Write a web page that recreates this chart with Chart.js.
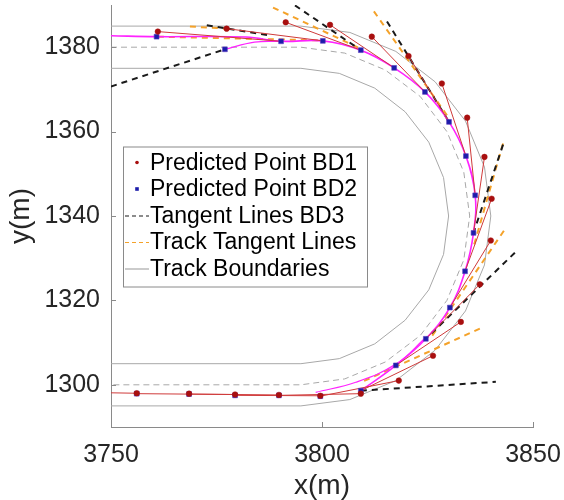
<!DOCTYPE html>
<html>
<head>
<meta charset="utf-8">
<style>
  html, body { margin: 0; padding: 0; background: #fff; }
  canvas { display: block; }
</style>
</head>
<body>
<canvas id="trackChart" width="564" height="500"></canvas>
<script src="https://cdn.jsdelivr.net/npm/chart.js@4.4.1/dist/chart.umd.min.js"></script>
<script>
// axis ticks
const xTicks = [3750, 3800, 3850];
const yTicks = [1300, 1320, 1340, 1360, 1380];

// track outline (outer edge, centre line, inner edge)
const outerX  = [3750, 3795, 3806.6, 3817.5, 3826.8, 3834.0, 3838.5, 3840, 3838.5, 3834.0, 3826.8, 3817.5, 3806.6, 3795, 3750];
const outerY  = [1385, 1385, 1383.5, 1379.0, 1371.8, 1362.5, 1351.6, 1340, 1328.4, 1317.5, 1308.2, 1301.0, 1296.5, 1295, 1295];
const centerX = [3750, 3795, 3805.4, 3815.0, 3823.3, 3829.6, 3833.6, 3835, 3833.6, 3829.6, 3823.3, 3815.0, 3805.4, 3795, 3750];
const centerY = [1380, 1380, 1378.6, 1374.6, 1368.3, 1360.0, 1350.4, 1340, 1329.6, 1320.0, 1311.7, 1305.4, 1301.4, 1300, 1300];
const innerX  = [3750, 3795, 3804.1, 3812.5, 3819.7, 3825.3, 3828.8, 3830, 3828.8, 3825.3, 3819.7, 3812.5, 3804.1, 3795, 3750];
const innerY  = [1375, 1375, 1373.8, 1370.3, 1364.7, 1357.5, 1349.1, 1340, 1330.9, 1322.5, 1315.3, 1309.7, 1306.2, 1305, 1305];

// predicted points
const bd1X = [3761.1, 3777.4, 3791.4, 3801.9, 3811.8, 3820.5, 3828.4, 3834.4, 3838.5, 3840.2, 3840.0,
              3837.4, 3832.9, 3826.3, 3818.2, 3809.2, 3799.6, 3789.8, 3779.4, 3768.5, 3756.1];
const bd1Y = [1383.7, 1384.4, 1385.9, 1385.3, 1382.5, 1377.9, 1371.4, 1363.3, 1354.0, 1344.1, 1334.2,
              1323.8, 1314.9, 1306.9, 1301.0, 1297.9, 1297.4, 1297.6, 1297.7, 1297.9, 1298.0];
const bd2X = [3760.8, 3777.0, 3790.3, 3800.2, 3809.2, 3817.1, 3824.4, 3830.1, 3834.1, 3836.3, 3835.9,
              3833.9, 3830.3, 3824.6, 3817.5, 3809.2, 3799.6, 3789.8, 3779.4, 3768.5, 3756.1];
const bd2Y = [1382.5, 1379.5, 1381.4, 1381.5, 1379.3, 1375.1, 1369.4, 1362.3, 1354.2, 1344.9, 1336.0,
              1326.9, 1318.3, 1310.9, 1304.6, 1298.6, 1297.3, 1297.5, 1297.5, 1297.8, 1297.9];

// driven path and its side branches
const pathX = [3750, 3760.8, 3782.0, 3790.3, 3800.2, 3809.2, 3817.1, 3824.4, 3830.1, 3834.1, 3836.3, 3835.9,
               3833.9, 3830.3, 3824.6, 3817.5, 3809.2];
const pathY = [1382.7, 1382.5, 1382.4, 1381.4, 1381.5, 1379.3, 1375.1, 1369.4, 1362.3, 1354.2, 1344.9, 1336.0,
               1326.9, 1318.3, 1310.9, 1304.6, 1298.6];
const branch1X = [3777.0, 3784.0, 3790.3];
const branch1Y = [1379.5, 1381.2, 1381.4];
const branch2X = [3798.5, 3808.0, 3817.5, 3824.6];
const branch2Y = [1298.2, 1300.6, 1304.9, 1311.2];

// left end of the last prediction link
const trailX = [3756.1, 3750];
const trailY = [1298.0, 1298.1];

// tangent lines BD3 (start -> end)
const bd3X0 = [3750.0, 3772.7, 3793.6, 3815.4, 3842.9, 3845.7, 3809.2];
const bd3Y0 = [1370.7, 1385.2, 1389.9, 1386.1, 1356.9, 1331.3, 1298.6];
const bd3X1 = [3777.0, 3787.7, 3809.2, 3830.1, 3835.9, 3824.6, 3841.2];
const bd3Y1 = [1379.5, 1382.8, 1379.3, 1362.3, 1336.0, 1310.9, 1300.7];

// track tangent lines (start -> end)
const ttX0 = [3761.1, 3768.7, 3788.4, 3812.3, 3842.9, 3843.1, 3837.4];
const ttY0 = [1382.5, 1384.9, 1389.4, 1388.5, 1357.2, 1336.5, 1313.3];
const ttX1 = [3800.0, 3777.5, 3809.0, 3830.3, 3835.8, 3826.1, 3809.5];
const ttY1 = [1381.6, 1384.4, 1379.7, 1362.9, 1332.3, 1311.6, 1300.7];

const legendLabels = ['Predicted Point BD1', 'Predicted Point BD2', 'Tangent Lines BD3', 'Track Tangent Lines', 'Track Boundaries'];

const FONT = "'Liberation Sans', Arial, Helvetica, sans-serif";
const AXIS = '#8a8a8a';
const GRAY = '#a8a8a8';
const RED_PT = '#a80f0f';
const RED_LINE = '#cf3a3a';
const BLUE = '#1c1caa';
const MAGENTA = '#ff22ff';
const ORANGE = '#f4a22a';
const BLACK = '#1a1a1a';

const pts = (xs, ys) => xs.map((x, i) => ({x, y: ys[i]}));

function line(xs, ys, style) {
	return Object.assign({
		data: pts(xs, ys),
		showLine: true,
		pointRadius: 0,
		pointHoverRadius: 0,
		borderWidth: 1,
		fill: false
	}, style);
}

const datasets = [];

datasets.push({
	data: pts(bd1X, bd1Y), pointStyle: 'circle', pointRadius: 2.8,
	backgroundColor: RED_PT, borderColor: RED_PT, borderWidth: 0.5, order: 1
});
datasets.push({
	data: pts(bd2X, bd2Y), pointStyle: 'rect', pointRadius: 3.4,
	backgroundColor: BLUE, borderColor: '#5a3ac0', borderWidth: 0.6, order: 2
});

// each predicted point is linked to the second point ahead on BD2
for (let i = 0; i + 2 < bd1X.length; i++) {
	datasets.push(line([bd1X[i], bd2X[i + 2]], [bd1Y[i], bd2Y[i + 2]], {borderColor: RED_LINE, order: 3}));
}
datasets.push(line(trailX, trailY, {borderColor: RED_LINE, order: 3}));

datasets.push(line(pathX, pathY, {borderColor: MAGENTA, borderWidth: 1.6, tension: 0.4, order: 4}));
datasets.push(line(branch1X, branch1Y, {borderColor: MAGENTA, borderWidth: 1.2, tension: 0.4, order: 4}));
datasets.push(line(branch2X, branch2Y, {borderColor: MAGENTA, borderWidth: 1.2, tension: 0.4, order: 4}));

bd3X0.forEach((x, i) => {
	datasets.push(line([x, bd3X1[i]], [bd3Y0[i], bd3Y1[i]], {borderColor: BLACK, borderWidth: 2, borderDash: [6, 5], order: 5}));
});
ttX0.forEach((x, i) => {
	datasets.push(line([x, ttX1[i]], [ttY0[i], ttY1[i]], {borderColor: ORANGE, borderWidth: 2, borderDash: [6, 5], order: 6}));
});

datasets.push(line(outerX, outerY, {borderColor: GRAY, order: 8}));
datasets.push(line(innerX, innerY, {borderColor: GRAY, order: 8}));
datasets.push(line(centerX, centerY, {borderColor: GRAY, borderDash: [6, 4], order: 8}));

// ticks pointing into the plot, as in the original figure
const innerTicks = {
	id: 'innerTicks',
	afterDraw(chart) {
		const {ctx, chartArea: a, scales: {x, y}} = chart;
		ctx.save();
		ctx.strokeStyle = AXIS;
		ctx.lineWidth = 1;
		ctx.beginPath();
		x.ticks.forEach(t => {
			const px = Math.round(x.getPixelForValue(t.value)) + 0.5;
			ctx.moveTo(px, a.bottom);
			ctx.lineTo(px, a.bottom - 5);
		});
		y.ticks.forEach(t => {
			const py = Math.round(y.getPixelForValue(t.value)) + 0.5;
			ctx.moveTo(a.left, py);
			ctx.lineTo(a.left + 5, py);
		});
		ctx.stroke();
		ctx.restore();
	}
};

// boxed legend sitting inside the plot
const boxLegend = {
	id: 'boxLegend',
	afterDatasetsDraw(chart) {
		const {ctx, chartArea: a} = chart;
		const left = a.left + 12, top = 146.5, w = 244, h = 140;
		const rowY = i => top + 16 + i * 26.5;
		ctx.save();
		ctx.fillStyle = '#fff';
		ctx.fillRect(left, top, w, h);
		ctx.strokeStyle = AXIS;
		ctx.lineWidth = 1;
		ctx.strokeRect(left + 0.5, top + 0.5, w, h);

		const sx0 = left + 2, sx1 = left + 26, sxm = (sx0 + sx1) / 2;
		legendLabels.forEach((label, i) => {
			const yy = rowY(i);
			ctx.save();
			if (i === 0) {
				ctx.fillStyle = RED_PT;
				ctx.beginPath();
				ctx.arc(sxm, yy, 1.8, 0, Math.PI * 2);
				ctx.fill();
			} else if (i === 1) {
				ctx.fillStyle = BLUE;
				ctx.fillRect(sxm - 1.8, yy - 1.8, 3.6, 3.6);
			} else {
				ctx.strokeStyle = i === 2 ? BLACK : i === 3 ? ORANGE : GRAY;
				ctx.lineWidth = 1.2;
				if (i < 4) ctx.setLineDash([4, 3]);
				ctx.beginPath();
				ctx.moveTo(sx0, yy + 0.5);
				ctx.lineTo(sx1, yy + 0.5);
				ctx.stroke();
			}
			ctx.restore();
			ctx.fillStyle = '#000';
			ctx.font = `23px ${FONT}`;
			ctx.textBaseline = 'middle';
			ctx.textAlign = 'left';
			ctx.fillText(label, left + 27, yy + 1);
		});
		ctx.restore();
	}
};

new Chart(
	document.getElementById('trackChart'),
	{
		type: 'scatter',
		data: {datasets},
		options: {
			responsive: false,
			devicePixelRatio: 1,
			animation: false,
			layout: {padding: {top: 5, right: 31, left: 0, bottom: 0}},
			plugins: {
				legend: {display: false},
				tooltip: {enabled: false}
			},
			scales: {
				x: {
					type: 'linear',
					min: 3750,
					max: 3850,
					afterBuildTicks: s => { s.ticks = xTicks.map(v => ({value: v})); },
					afterFit: s => { s.height = 73; s.paddingLeft = 0; s.paddingRight = 0; },
					grid: {display: false, drawTicks: false},
					border: {display: true, color: AXIS, width: 1},
					ticks: {color: '#262626', font: {family: FONT, size: 25}, padding: 13, maxRotation: 0, callback: v => String(v)},
					title: {display: true, text: 'x(m)', color: '#262626', font: {family: FONT, size: 28, lineHeight: 1}, padding: 0}
				},
				y: {
					type: 'linear',
					min: 1290,
					max: 1390,
					afterBuildTicks: s => { s.ticks = yTicks.map(v => ({value: v})); },
					afterFit: s => { s.width = 111; s.paddingTop = 0; s.paddingBottom = 0; },
					grid: {display: false, drawTicks: false},
					border: {display: true, color: AXIS, width: 1},
					ticks: {color: '#262626', font: {family: FONT, size: 25}, padding: 11, callback: v => String(v)},
					title: {display: true, text: 'y(m)', color: '#262626', font: {family: FONT, size: 28, lineHeight: 1}, padding: {top: 7, bottom: 0}}
				}
			}
		},
		plugins: [innerTicks, boxLegend]
	}
);
</script>
</body>
</html>
